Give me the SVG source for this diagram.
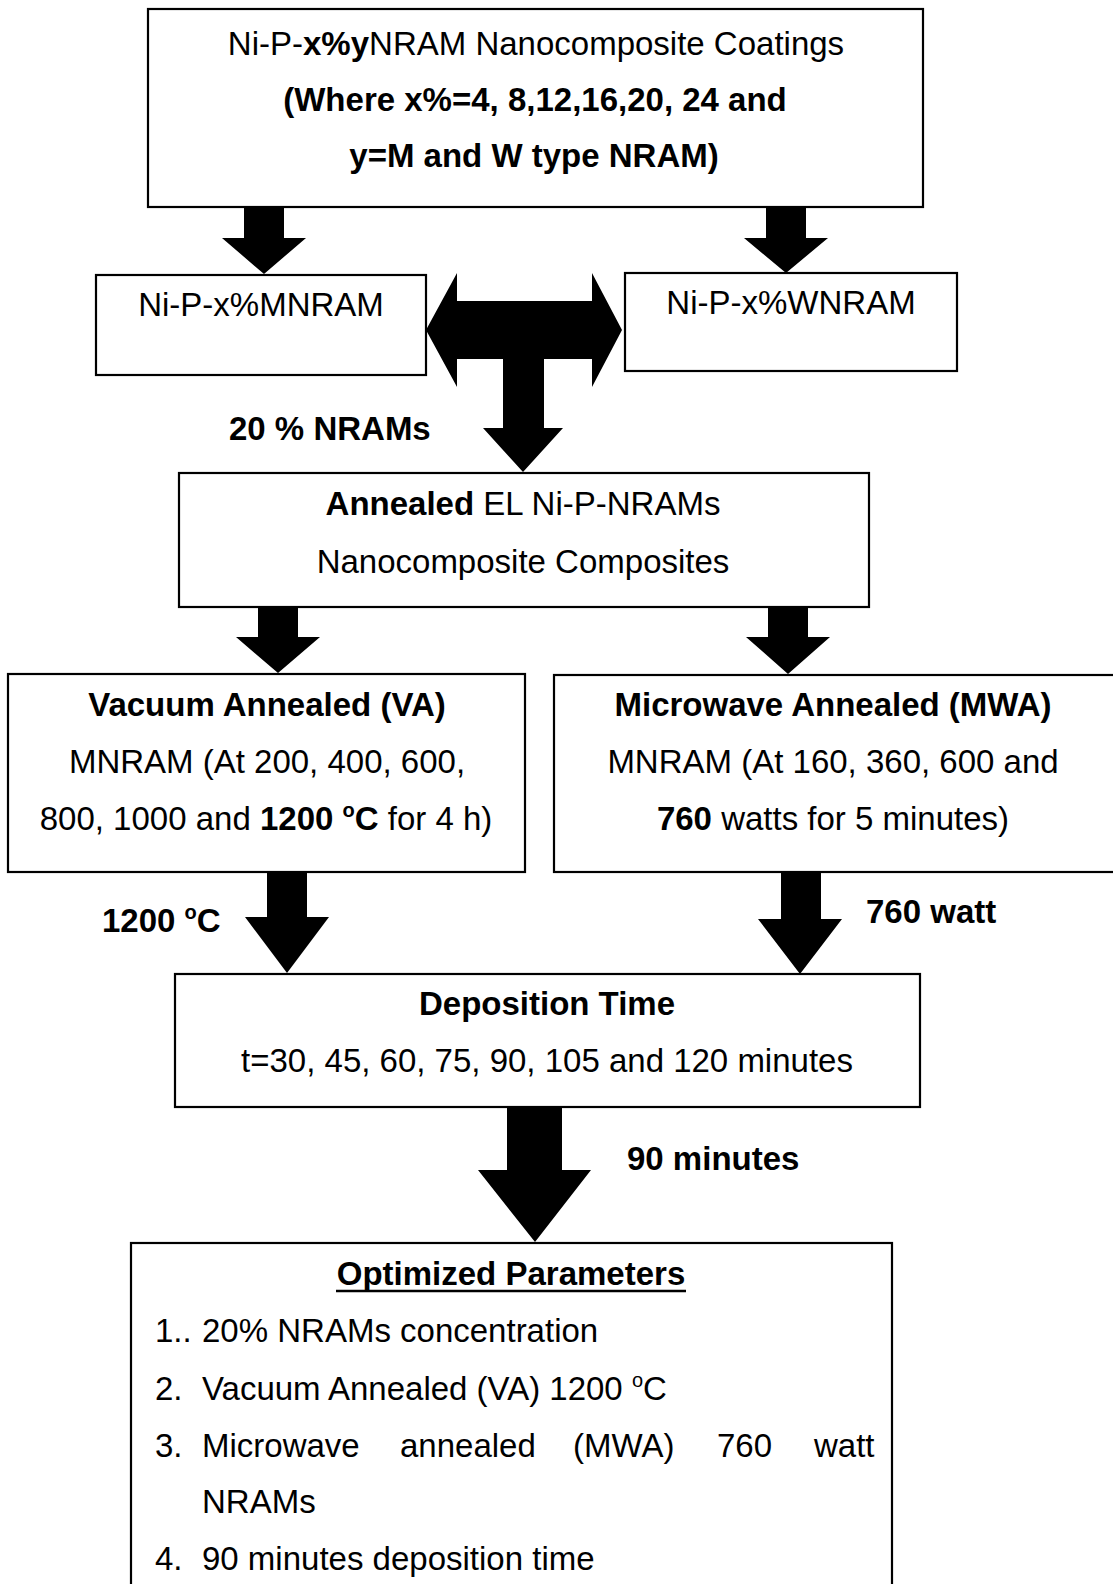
<svg xmlns="http://www.w3.org/2000/svg" width="1113" height="1584" viewBox="0 0 1113 1584">
  <style>
    .box { fill: #ffffff; stroke: #000000; stroke-width: 2.2; }
    .t { font-family: "Liberation Sans", Arial, sans-serif; font-size: 33px; fill: #000000; }
    .c { text-anchor: middle; }
    .b { font-weight: bold; }
    .sup { font-size: 20px; }
    .arrow { fill: #000000; stroke: none; }
  </style>
  <rect x="0" y="0" width="1113" height="1584" fill="#ffffff"/>

  <!-- block arrows -->
  <g id="connectors">
    <!-- coatings to M-type -->
    <polygon class="arrow" points="244,207 284,207 284,238 306,238 264,274 222,238 244,238"/>
    <!-- coatings to W-type -->
    <polygon class="arrow" points="766,207 806,207 806,238 828,238 786,273 744,238 766,238"/>
    <!-- M/W comparison merging down to annealed composites -->
    <polygon class="arrow" points="426,330 457,273 457,301 592,301 592,273 622,330 592,387 592,359 544,359 544,428 563,428 523,472 483,428 503,428 503,359 457,359 457,387"/>
    <!-- annealed to VA -->
    <polygon class="arrow" points="258,607 298,607 298,637 320,637 278,673 236,637 258,637"/>
    <!-- annealed to MWA -->
    <polygon class="arrow" points="768,607 808,607 808,637 830,637 788,674 746,637 768,637"/>
    <!-- VA to deposition time -->
    <polygon class="arrow" points="267,872 307,872 307,917 329,917 287,973 245,917 267,917"/>
    <!-- MWA to deposition time -->
    <polygon class="arrow" points="781,872 821,872 821,919 842,919 800,974 758,919 781,919"/>
    <!-- deposition time to optimized parameters -->
    <polygon class="arrow" points="507,1107 562,1107 562,1170 591,1170 535,1242 478,1170 507,1170"/>
  </g>

  <g id="node-coatings">
    <rect class="box" x="148" y="9" width="775" height="198"/>
    <text class="t c" x="536" y="55">Ni-P-<tspan class="b">x%y</tspan>NRAM Nanocomposite Coatings</text>
    <text class="t c b" x="535" y="111">(Where x%=4, 8,12,16,20, 24 and</text>
    <text class="t c b" x="534" y="167">y=M and W type NRAM)</text>
  </g>

  <g id="node-mnram">
    <rect class="box" x="96" y="275" width="330" height="100"/>
    <text class="t c" x="261" y="316">Ni-P-x%MNRAM</text>
  </g>

  <g id="node-wnram">
    <rect class="box" x="625" y="273" width="332" height="98"/>
    <text class="t c" x="791" y="314">Ni-P-x%WNRAM</text>
  </g>

  <g id="label-20">
    <text class="t b" x="229" y="440">20 % NRAMs</text>
  </g>

  <g id="node-annealed">
    <rect class="box" x="179" y="473" width="690" height="134"/>
    <text class="t c" x="523" y="515"><tspan class="b">Annealed</tspan> EL Ni-P-NRAMs</text>
    <text class="t c" x="523" y="573">Nanocomposite Composites</text>
  </g>

  <g id="node-va">
    <rect class="box" x="8" y="674" width="517" height="198"/>
    <text class="t c b" x="267" y="716">Vacuum Annealed (VA)</text>
    <text class="t c" x="267" y="773">MNRAM (At 200, 400, 600,</text>
    <text class="t c" x="266" y="830">800, 1000 and <tspan class="b">1200 <tspan class="sup" dy="-13">o</tspan><tspan dy="13">C</tspan></tspan> for 4 h)</text>
  </g>

  <g id="node-mwa">
    <rect class="box" x="554" y="675" width="570" height="197"/>
    <text class="t c b" x="833" y="716">Microwave Annealed (MWA)</text>
    <text class="t c" x="833" y="773">MNRAM (At 160, 360, 600 and</text>
    <text class="t c" x="833" y="830"><tspan class="b">760</tspan> watts for 5 minutes)</text>
  </g>

  <g id="label-1200">
    <text class="t b" x="102" y="932">1200 <tspan class="sup" dy="-13">o</tspan><tspan dy="13">C</tspan></text>
  </g>

  <g id="label-760">
    <text class="t b" x="866" y="923">760 watt</text>
  </g>

  <g id="node-deposition">
    <rect class="box" x="175" y="974" width="745" height="133"/>
    <text class="t c b" x="547" y="1015">Deposition Time</text>
    <text class="t c" x="547" y="1072">t=30, 45, 60, 75, 90, 105 and 120 minutes</text>
  </g>

  <g id="label-90">
    <text class="t b" x="627" y="1170">90 minutes</text>
  </g>

  <g id="node-optimized">
    <rect class="box" x="131" y="1243" width="761" height="360"/>
    <text class="t c b" x="511" y="1285">Optimized Parameters</text>
    <line x1="336" y1="1291" x2="686" y2="1291" stroke="#000000" stroke-width="2.4"/>
    <text class="t" x="155" y="1342">1..</text>
    <text class="t" x="202" y="1342">20% NRAMs concentration</text>
    <text class="t" x="155" y="1400">2.</text>
    <text class="t" x="202" y="1400">Vacuum Annealed (VA) 1200 <tspan class="sup" dy="-13">o</tspan><tspan dy="13">C</tspan></text>
    <text class="t" x="155" y="1457">3.</text>
    <text class="t" y="1457"><tspan x="202">Microwave</tspan><tspan x="400">annealed</tspan><tspan x="573">(MWA)</tspan><tspan x="717">760</tspan><tspan x="814">watt</tspan></text>
    <text class="t" x="202" y="1513">NRAMs</text>
    <text class="t" x="155" y="1570">4.</text>
    <text class="t" x="202" y="1570">90 minutes deposition time</text>
  </g>
</svg>
